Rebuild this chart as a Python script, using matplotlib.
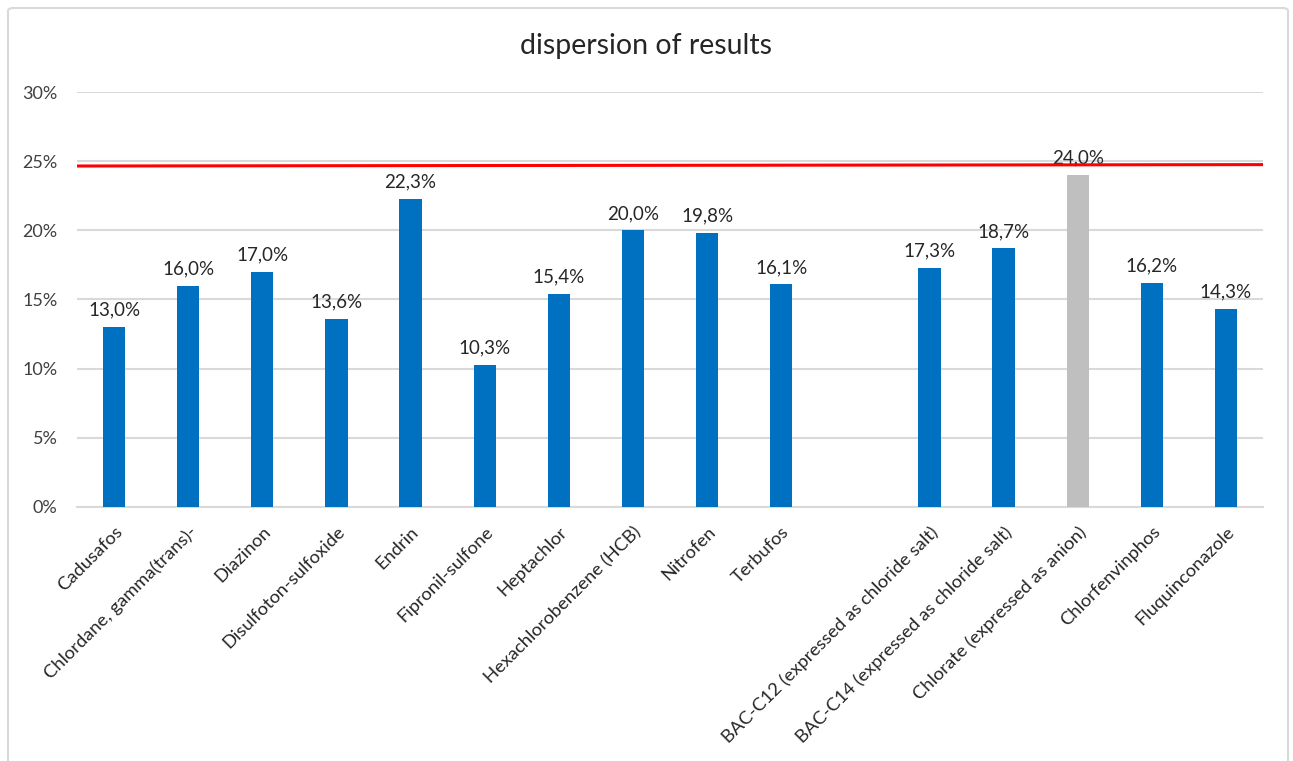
import numpy as np
import matplotlib.pyplot as plt
from matplotlib.patches import FancyBboxPatch

plt.rcParams['font.family'] = ['Lato', 'DejaVu Sans']

# data (one empty slot between Terbufos and BAC-C12)
categories = ['Cadusafos', 'Chlordane, gamma(trans)-', 'Diazinon', 'Disulfoton-sulfoxide',
              'Endrin', 'Fipronil-sulfone', 'Heptachlor', 'Hexachlorobenzene (HCB)',
              'Nitrofen', 'Terbufos', '',
              'BAC-C12 (expressed as chloride salt)', 'BAC-C14 (expressed as chloride salt)',
              'Chlorate (expressed as anion)', 'Chlorfenvinphos', 'Fluquinconazole']
values = [13.0, 16.0, 17.0, 13.6, 22.3, 10.3, 15.4, 20.0, 19.8, 16.1, np.nan,
          17.3, 18.7, 24.0, 16.2, 14.3]
highlight = ['Chlorate (expressed as anion)']
limit = [24.65, 24.75]

blue = '#0070C0'
grey = '#BFBFBF'

fig = plt.figure(figsize=(12.93, 7.61), dpi=100)
ax = fig.add_axes([0.0596, 0.3338, 0.9172, 0.5453])

x = np.arange(len(categories))
colors = [grey if c in highlight else blue for c in categories]
bars = ax.bar(x, values, width=0.3, color=colors, zorder=3)

for xi, v in zip(x, values):
    if np.isnan(v):
        continue
    ax.text(xi, v + 0.6, f'{v:.1f}%'.replace('.', ','), ha='center', va='bottom',
            fontsize=13.5, color='#262626', zorder=4)

# limit line
ax.plot([-0.5, len(categories) - 0.5], limit, color='#FF0000', lw=2.2, zorder=5)

ax.set_xlim(-0.5, len(categories) - 0.5)
ax.set_ylim(0, 30)
ax.set_yticks(np.arange(0, 31, 5))
ax.set_yticklabels([f'{t}%' for t in range(0, 31, 5)], fontsize=13, color='#404040')
ax.set_xticks(x)
ax.set_xticklabels(categories, rotation=45, ha='right', rotation_mode='anchor',
                   fontsize=13.2, color='#262626')
ax.tick_params(axis='both', length=0)
ax.tick_params(axis='x', pad=12)
ax.tick_params(axis='y', pad=14)
ax.grid(axis='y', color='#D9D9D9', lw=1.5, zorder=0)
for s in ['top', 'right', 'left']:
    ax.spines[s].set_visible(False)
ax.spines['bottom'].set_color('#D9D9D9')
ax.spines['bottom'].set_linewidth(1.5)

fig.text(0.5, 0.94, 'dispersion of results', ha='center', va='center',
         fontsize=20.5, color='#262626')

# chart border
border = FancyBboxPatch((8 / 1293, -0.05), 1280 / 1293, 1.05 - 8 / 761,
                        boxstyle='round,pad=0,rounding_size=0.004',
                        transform=fig.transFigure, fill=False,
                        edgecolor='#D9D9D9', lw=1.5)
fig.patches.append(border)

fig.savefig('out.png', dpi=100)
